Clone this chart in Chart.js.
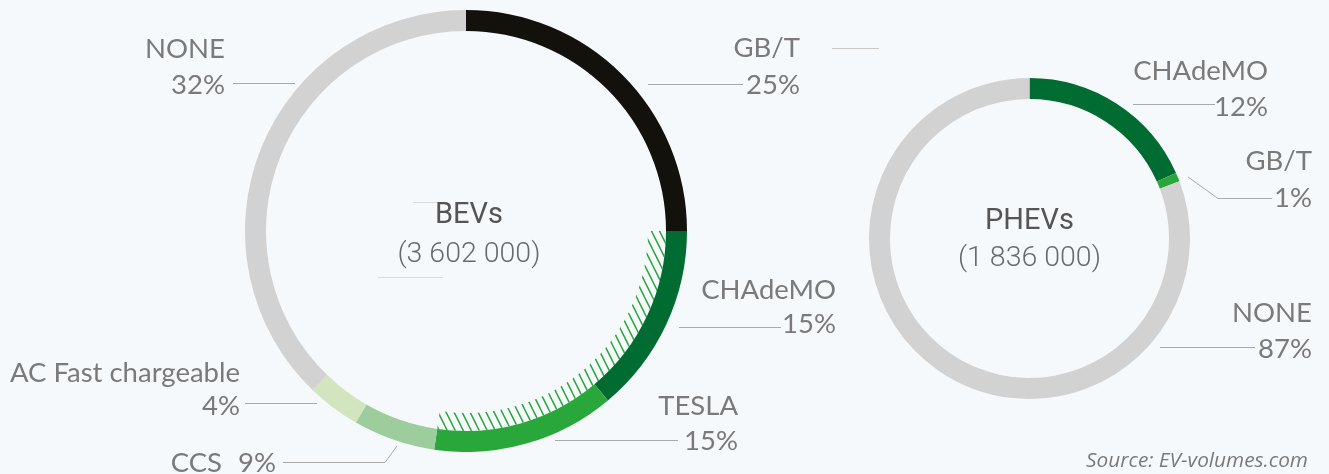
<!DOCTYPE html>
<html>
<head>
<meta charset="utf-8">
<script src="https://cdn.jsdelivr.net/npm/chart.js@4.4.0/dist/chart.umd.min.js"></script>
<style>
  html, body { margin: 0; padding: 0; background: #f6f9fc; }
  #stage { position: relative; width: 1329px; height: 474px; overflow: hidden; background: #f6f9fc; }
  #stage canvas { position: absolute; }
  #lines { position: absolute; left: 0; top: 0; }
  .lbl { position: absolute; white-space: nowrap; line-height: 1; font-family: Lato, "Open Sans", sans-serif; font-size: 27.5px; color: #7a7a7a; }
  .title { font-family: Roboto, sans-serif; font-weight: 400; font-size: 29px; color: #555; }
  .total { font-family: Roboto, sans-serif; font-weight: 300; font-size: 28.5px; color: #6a6a6a; }
  .source { font-family: "Open Sans", sans-serif; font-style: italic; font-size: 20.8px; color: #7a7a7a; }
</style>
</head>
<body>
<div id="stage">
  <canvas id="bevChart" width="442" height="442" style="left:245px; top:10px;"></canvas>
  <canvas id="phevChart" width="321" height="321" style="left:869px; top:78px;"></canvas>
  <svg id="lines" width="1329" height="474"></svg>
</div>
<script>
// ===========================
// Data
// ===========================

// BEVs - shares measured from the ring, printed labels kept separately
const bevCategories = ['GB/T', 'CHAdeMO', 'TESLA', 'CCS', 'AC Fast chargeable', 'NONE'];
const bevShares = [25, 13.9, 13.4, 6.0, 3.9, 37.8];
const bevPercentLabels = ['25%', '15%', '15%', '9%', '4%', '32%'];
const bevTotal = '(3 602 000)';

// PHEVs
const phevCategories = ['CHAdeMO', 'GB/T', 'NONE'];
const phevShares = [18.3, 0.9, 80.8];
const phevPercentLabels = ['12%', '1%', '87%'];
const phevTotal = '(1 836 000)';

// fast-charge band (hatched) covers CHAdeMO + TESLA on the BEV ring
const fastChargeCategories = ['CHAdeMO', 'TESLA'];

// ===========================
// Styles
// ===========================

const bevColors = ['#12110c', '#006c31', '#29a73a', '#9ecd9d', '#d3e5bf', '#d2d2d2'];
const phevColors = ['#006c31', '#29a73a', '#d2d2d2'];

function makeHatch() {
    const w = 8, h = 16;
    const c = document.createElement('canvas');
    c.width = w; c.height = h;
    const g = c.getContext('2d');
    g.strokeStyle = '#2aa63a';
    g.lineWidth = 1.5;
    for (let i = -1; i <= 1; i++) {
        for (let j = -1; j <= 1; j++) {
            g.beginPath();
            g.moveTo(i * w, j * h);
            g.lineTo(i * w + w, j * h + h);
            g.stroke();
        }
    }
    return g.createPattern(c, 'repeat');
}

const baseOptions = {
    responsive: false,
    animation: false,
    events: [],
    layout: { padding: 0 },
    plugins: {
        legend: { display: false },
        tooltip: { enabled: false }
    }
};

// ===========================
// Charts
// ===========================

function createBevChart() {
    const ctx = document.getElementById('bevChart');
    const hatch = makeHatch();

    // hatched inner band: transparent before, hatched over the fast-charge segments, transparent after
    let before = 0, covered = 0;
    bevCategories.forEach((cat, i) => {
        if (fastChargeCategories.includes(cat)) covered += bevShares[i];
        else if (covered === 0) before += bevShares[i];
    });
    const total = bevShares.reduce((a, b) => a + b, 0);
    const bandData = [before, covered, total - before - covered];

    new Chart(ctx, {
        type: 'doughnut',
        data: {
            labels: bevCategories,
            datasets: [{
                data: bevShares,
                backgroundColor: bevColors,
                borderWidth: 0,
                weight: 21
            }, {
                data: bandData,
                backgroundColor: ['rgba(0,0,0,0)', hatch, 'rgba(0,0,0,0)'],
                borderWidth: 0,
                weight: 18
            }]
        },
        options: Object.assign({}, baseOptions, { cutout: 182 })
    });
}

function createPhevChart() {
    const ctx = document.getElementById('phevChart');
    new Chart(ctx, {
        type: 'doughnut',
        data: {
            labels: phevCategories,
            datasets: [{
                data: phevShares,
                backgroundColor: phevColors,
                borderWidth: 0
            }]
        },
        options: Object.assign({}, baseOptions, { cutout: 139.5 })
    });
}

// ===========================
// Labels and leader lines
// ===========================

const stage = document.getElementById('stage');

function addText(txt, x, baseY, align, cls) {
    const d = document.createElement('div');
    d.className = 'lbl ' + (cls || '');
    d.textContent = txt;
    const m = document.createElement('span');
    m.style.cssText = 'display:inline-block;width:0;height:0;vertical-align:baseline';
    d.appendChild(m);
    d.style.left = '0px';
    d.style.top = '0px';
    stage.appendChild(d);
    const sr = stage.getBoundingClientRect();
    const base = m.getBoundingClientRect().top - sr.top;
    const w = d.getBoundingClientRect().width;
    d.style.top = (baseY - base) + 'px';
    d.style.left = (align === 'right' ? x - w : align === 'center' ? x - w / 2 : x) + 'px';
}

function addLine(points, color) {
    const svg = document.getElementById('lines');
    const pl = document.createElementNS('http://www.w3.org/2000/svg', 'polyline');
    pl.setAttribute('points', points.map(p => p.join(',')).join(' '));
    pl.setAttribute('fill', 'none');
    pl.setAttribute('stroke', color || '#aaaaaa');
    pl.setAttribute('stroke-width', '1');
    svg.appendChild(pl);
}

function drawAnnotations() {
    // BEV side
    addText(bevCategories[5], 225, 58, 'right');
    addText(bevPercentLabels[5], 225, 94, 'right');
    addLine([[233, 83.5], [295, 83.5]]);

    addText(bevCategories[0], 800, 57, 'right');
    addText(bevPercentLabels[0], 800, 94, 'right');
    addLine([[648, 84.5], [743, 84.5]]);
    addLine([[832, 48.5], [879, 48.5]], '#c8c8c8');

    addText(bevCategories[1], 836, 299, 'right');
    addText(bevPercentLabels[1], 836, 333, 'right');
    addLine([[679, 327.5], [781, 327.5]]);

    addText(bevCategories[2], 738, 415, 'right');
    addText(bevPercentLabels[2], 738, 450, 'right');
    addLine([[555, 440.5], [678, 440.5]]);

    addText(bevCategories[4], 240, 382, 'right');
    addText(bevPercentLabels[4], 240, 415, 'right');
    addLine([[245, 403.5], [317, 403.5]]);

    addText(bevCategories[3], 222, 472, 'right');
    addText(bevPercentLabels[3], 276, 472, 'right');
    addLine([[283, 462.5], [385, 462.5], [397, 446]]);

    addLine([[413, 202.5], [445, 202.5]], '#dcdcdc');
    addLine([[378, 277.5], [443, 277.5]], '#dcdcdc');

    addText('BEVs', 469, 223, 'center', 'title');
    addText(bevTotal, 469, 262, 'center', 'total');

    // PHEV side
    addText(phevCategories[0], 1268, 80, 'right');
    addText(phevPercentLabels[0], 1268, 116, 'right');
    addLine([[1133, 104.5], [1215, 104.5]]);

    addText(phevCategories[1], 1312, 170, 'right');
    addText(phevPercentLabels[1], 1312, 207, 'right');
    addLine([[1188, 177], [1218, 198.5], [1272, 198.5]]);

    addText(phevCategories[2], 1312, 322, 'right');
    addText(phevPercentLabels[2], 1312, 358, 'right');
    addLine([[1160, 347.5], [1255, 347.5]]);

    addText('PHEVs', 1029.5, 229, 'center', 'title');
    addText(phevTotal, 1029.5, 266, 'center', 'total');

    addText('Source: EV-volumes.com', 1308, 467, 'right', 'source');
}

createBevChart();
createPhevChart();
document.fonts.ready.then(drawAnnotations);
</script>
</body>
</html>
